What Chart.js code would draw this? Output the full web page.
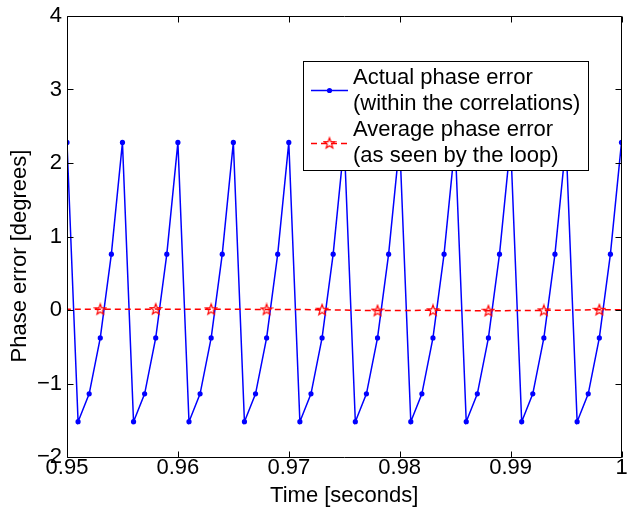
<!DOCTYPE html>
<html><head><meta charset="utf-8">
<script src="https://cdn.jsdelivr.net/npm/chart.js@4/dist/chart.umd.min.js"></script>
<style>html,body{margin:0;padding:0;background:#fff;overflow:hidden}canvas{display:block}</style>
</head><body>
<canvas id="c" width="628" height="508"></canvas>
<script>
// ---- data ----
const time = [
  0.950,0.951,0.952,0.953,0.954,0.955,0.956,0.957,0.958,0.959,
  0.960,0.961,0.962,0.963,0.964,0.965,0.966,0.967,0.968,0.969,
  0.970,0.971,0.972,0.973,0.974,0.975,0.976,0.977,0.978,0.979,
  0.980,0.981,0.982,0.983,0.984,0.985,0.986,0.987,0.988,0.989,
  0.990,0.991,0.992,0.993,0.994,0.995,0.996,0.997,0.998,0.999,
  1.000
];
const actualPhaseError = [
  2.28,-1.52,-1.14,-0.38,0.76,2.28,-1.52,-1.14,-0.38,0.76,
  2.28,-1.52,-1.14,-0.38,0.76,2.28,-1.52,-1.14,-0.38,0.76,
  2.28,-1.52,-1.14,-0.38,0.76,2.28,-1.52,-1.14,-0.38,0.76,
  2.28,-1.52,-1.14,-0.38,0.76,2.28,-1.52,-1.14,-0.38,0.76,
  2.28,-1.52,-1.14,-0.38,0.76,2.28,-1.52,-1.14,-0.38,0.76,
  2.28
];
const avgTime = [0.948,0.953,0.958,0.963,0.968,0.973,0.978,0.983,0.988,0.993,0.998,1.003];
const avgPhaseError = [0.010,0.010,0.012,0.010,0.008,0.004,-0.008,-0.004,-0.010,-0.005,0.003,0.000];

const xTickValues = [0.95,0.96,0.97,0.98,0.99,1.0];
const xTickLabels = ['0.95','0.96','0.97','0.98','0.99','1'];
const yTickValues = [-2,-1,0,1,2,3,4];
const yTickLabels = ['\u22122','\u22121','0','1','2','3','4'];
const seriesLabels = [
  ['Actual phase error','(within the correlations)'],
  ['Average phase error','(as seen by the loop)']
];
const xTitle = 'Time [seconds]';
const yTitle = 'Phase error [degrees]';

// ---- styling ----
const FONT = '"Liberation Sans", Arial, Helvetica, sans-serif';
const BLUE = '#0000ff', RED = '#ff0000';

function makeStar(){
  const c = document.createElement('canvas');
  c.width = 14; c.height = 14;
  const g = c.getContext('2d');
  g.strokeStyle = RED; g.lineWidth = 1.2;
  g.beginPath();
  for (let i = 0; i < 10; i++){
    const r = i % 2 ? 2.3 : 5.6;
    const a = -Math.PI/2 + i*Math.PI/5;
    const px = 7 + r*Math.cos(a), py = 7.4 + r*Math.sin(a);
    if (i) g.lineTo(px,py); else g.moveTo(px,py);
  }
  g.closePath(); g.stroke();
  return c;
}
const starImg = makeStar();

const framePlugin = {
  id: 'frame',
  afterDatasetsDraw(chart){
    const {ctx, chartArea:a, scales:{x, y}} = chart;
    ctx.save();
    ctx.strokeStyle = '#000'; ctx.lineWidth = 1;
    const L = Math.round(a.left)+0.5, R = Math.round(a.right)-0.5;
    const T = Math.round(a.top)+0.5, B = Math.round(a.bottom)+0.5;
    ctx.beginPath(); ctx.rect(L, T, R-L, B-T); ctx.stroke();
    const tl = 6;
    ctx.beginPath();
    xTickValues.forEach(v => {
      const px = Math.round(x.getPixelForValue(v))+0.5;
      ctx.moveTo(px, B); ctx.lineTo(px, B-tl);
      ctx.moveTo(px, T); ctx.lineTo(px, T+tl);
    });
    yTickValues.forEach(v => {
      const py = Math.round(y.getPixelForValue(v))+0.5;
      ctx.moveTo(L, py); ctx.lineTo(L+tl, py);
      ctx.moveTo(R, py); ctx.lineTo(R-tl, py);
    });
    ctx.stroke();
    ctx.restore();
  }
};

const annotPlugin = {
  id: 'annot',
  afterDraw(chart){
    const ctx = chart.ctx;
    ctx.save();
    // y-axis title
    ctx.translate(20, 256);
    ctx.rotate(-Math.PI/2);
    ctx.fillStyle = '#000';
    ctx.font = '22px ' + FONT;
    ctx.textAlign = 'center'; ctx.textBaseline = 'middle';
    ctx.fillText(yTitle, 0, 0);
    ctx.restore();

    // legend box
    ctx.save();
    const bx = 303.5, by = 61.5, bw = 285, bh = 109;
    ctx.fillStyle = '#fff'; ctx.fillRect(bx, by, bw, bh);
    ctx.strokeStyle = '#000'; ctx.lineWidth = 1; ctx.strokeRect(bx, by, bw, bh);
    // blue sample
    ctx.strokeStyle = BLUE; ctx.lineWidth = 1.5;
    ctx.beginPath(); ctx.moveTo(311, 90.5); ctx.lineTo(348, 90.5); ctx.stroke();
    ctx.fillStyle = BLUE; ctx.beginPath(); ctx.arc(329.5, 90.5, 2.6, 0, Math.PI*2); ctx.fill();
    // red sample
    ctx.strokeStyle = RED; ctx.setLineDash([6,4]);
    ctx.beginPath(); ctx.moveTo(311, 143.5); ctx.lineTo(348, 143.5); ctx.stroke();
    ctx.setLineDash([]);
    ctx.drawImage(starImg, 329.5-7, 143.5-7.4);
    // texts
    ctx.fillStyle = '#000';
    ctx.font = '22px ' + FONT;
    ctx.textAlign = 'left'; ctx.textBaseline = 'middle';
    ctx.fillText(seriesLabels[0][0], 353, 78);
    ctx.fillText(seriesLabels[0][1], 353, 104);
    ctx.fillText(seriesLabels[1][0], 353, 130);
    ctx.fillText(seriesLabels[1][1], 353, 156);
    ctx.restore();
  }
};

new Chart(document.getElementById('c'), {
  type: 'scatter',
  data: {
    datasets: [
      {
        label: seriesLabels[0].join(' '),
        data: time.map((t,i) => ({x:t, y:actualPhaseError[i]})),
        showLine: true,
        borderColor: BLUE, backgroundColor: BLUE,
        borderWidth: 1.5,
        pointRadius: 2.6, pointBorderWidth: 0, pointBackgroundColor: BLUE,
        order: 2
      },
      {
        label: seriesLabels[1].join(' '),
        data: avgTime.map((t,i) => ({x:t, y:avgPhaseError[i]})),
        showLine: true,
        borderColor: RED, backgroundColor: RED,
        borderWidth: 1.5, borderDash: [6,4],
        pointStyle: starImg, pointRadius: 5,
        order: 1
      }
    ]
  },
  options: {
    responsive: false,
    animation: false,
    devicePixelRatio: 1,
    events: [],
    layout: { padding: { top: 16, right: 1, left: 0, bottom: 0 } },
    plugins: { legend: { display: false }, tooltip: { enabled: false }, title: { display: false } },
    scales: {
      x: {
        type: 'linear', min: 0.95, max: 1.0,
        afterFit(s){ s.height = 51; },
        afterBuildTicks(s){ s.ticks = xTickValues.map(v => ({value: v})); },
        grid: { display: false, drawTicks: false },
        border: { display: false },
        ticks: {
          color: '#000', font: { family: FONT, size: 22, lineHeight: 1 },
          padding: 0, maxRotation: 0, autoSkip: false,
          callback: (v, i) => xTickLabels[i]
        },
        title: { display: true, text: xTitle, color: '#000',
                 font: { family: FONT, size: 22, lineHeight: 1 }, padding: { top: 0, bottom: 1 } }
      },
      y: {
        type: 'linear', min: -2, max: 4,
        afterFit(s){ s.width = 67; },
        afterBuildTicks(s){ s.ticks = yTickValues.map(v => ({value: v})); },
        grid: { display: false, drawTicks: false },
        border: { display: false },
        ticks: {
          color: '#000', font: { family: FONT, size: 22, lineHeight: 1 },
          padding: 5, autoSkip: false,
          callback: (v, i) => yTickLabels[i]
        }
      }
    }
  },
  plugins: [framePlugin, annotPlugin]
});
</script>
</body></html>
